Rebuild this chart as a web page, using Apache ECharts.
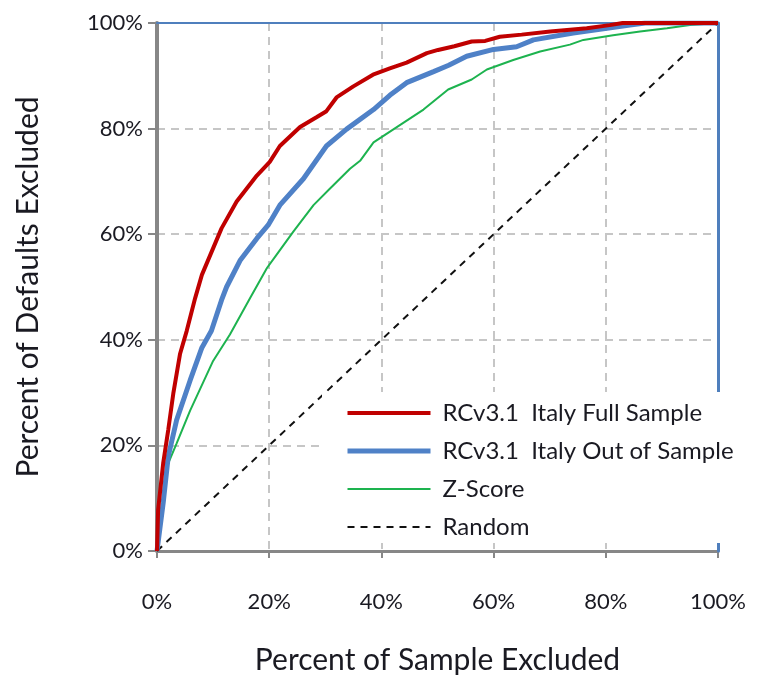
<!DOCTYPE html>
<html>
<head>
<meta charset="utf-8">
<script src="https://cdn.jsdelivr.net/npm/echarts@6/dist/echarts.min.js"></script>
<style>html,body{margin:0;padding:0;background:#fff;}#c{width:771px;height:680px;}</style>
</head>
<body>
<div id="c"></div>
<script>
var seriesNames = ['RCv3.1  Italy Full Sample', 'RCv3.1  Italy Out of Sample', 'Z-Score', 'Random'];
var xTicks = [0, 20, 40, 60, 80, 100];

var fullX = [0, 0.2, 1.1, 2.0, 2.9, 4.1, 5.3, 6.8, 8.0, 11.5, 14.2, 17.8, 20.1, 21.9, 25.5, 28.5, 30.2, 32.0, 35.0, 38.5, 41.5, 44.5, 48.1, 50.1, 53.0, 56.1, 58.5, 61.1, 65.0, 70.1, 76.6, 80.7, 83.0, 100];
var fullY = [0, 7.8, 16.6, 22.9, 29.8, 37.3, 41.7, 47.9, 52.3, 61.1, 66.2, 71.1, 73.7, 76.7, 80.3, 82.2, 83.3, 85.9, 88.0, 90.2, 91.4, 92.5, 94.3, 94.9, 95.6, 96.5, 96.6, 97.4, 97.8, 98.4, 99.0, 99.6, 100, 100];

var outX = [0, 1.1, 2.0, 3.5, 5.9, 8.0, 9.7, 11.5, 12.4, 14.8, 17.8, 19.8, 21.9, 26.1, 30.2, 33.8, 38.6, 41.5, 44.5, 49.3, 52.0, 55.2, 60.0, 64.1, 67.1, 74.2, 80.2, 84.3, 87.0, 100];
var outY = [0, 9.1, 17.9, 24.8, 32.3, 38.5, 41.7, 47.5, 50.0, 55.0, 59.2, 61.7, 65.5, 70.5, 76.7, 79.9, 83.6, 86.3, 88.7, 90.8, 92.0, 93.7, 95.0, 95.5, 96.8, 98.1, 99.0, 99.6, 100, 100];

var zX = [0, 0.8, 2.0, 3.5, 5.9, 10.0, 13.0, 16.6, 19.6, 21.3, 24.3, 27.9, 30.8, 34.4, 36.2, 38.6, 43.9, 47.5, 51.9, 56.1, 58.8, 63.5, 68.3, 73.6, 76.0, 81.3, 86.1, 90.9, 95.0, 100];
var zY = [0, 7.8, 16.6, 20.4, 26.6, 36.0, 41.0, 47.9, 53.6, 56.1, 60.5, 65.5, 68.6, 72.4, 73.9, 77.4, 81.1, 83.6, 87.4, 89.3, 91.2, 93.0, 94.6, 95.9, 96.8, 97.7, 98.4, 99.0, 99.6, 100];

var randomX = [0, 100];
var randomY = [0, 100];

function pairs(xs, ys) { return xs.map(function (x, i) { return [x, ys[i]]; }); }

var FONT = 'Lato';
var TXT = '#1a1a22';
var colors = ['#c00000', '#4f81c7', '#1db34f', '#111'];
var widths = [4, 5, 2, 2];
var dashes = ['solid', 'solid', 'solid', [7, 6]];

var chart = echarts.init(document.getElementById('c'), null, {renderer: 'canvas'});
chart.setOption({
  backgroundColor: '#fff',
  animation: false,
  grid: {left: 157, right: 53, top: 23, bottom: 125, containLabel: false},
  legend: {
    data: seriesNames.map(function (n, i) {
      return {name: n, lineStyle: {color: colors[i], width: widths[i], type: dashes[i]}, itemStyle: {opacity: 0}};
    }),
    orient: 'vertical',
    left: 322, top: 392,
    backgroundColor: '#fff',
    padding: [9, 20, 4, 23],
    itemWidth: 83, itemHeight: 20, itemGap: 14,
    z: 10,
    textStyle: {fontFamily: FONT, fontSize: 24, color: TXT, padding: [0, 0, 0, 7]}
  },
  xAxis: [{
    type: 'value', min: 0, max: 100, interval: 20,
    name: 'Percent of Sample Excluded', nameLocation: 'middle', nameGap: 94,
    nameTextStyle: {fontFamily: FONT, fontSize: 30, color: TXT},
    axisLine: {lineStyle: {color: '#878787', width: 3}},
    axisTick: {show: true, length: 7, lineStyle: {color: '#878787', width: 2}},
    axisLabel: {formatter: '{value}%', margin: 40, fontFamily: FONT, fontSize: 22, color: TXT},
    splitLine: {show: true, lineStyle: {color: '#c6c6c6', width: 2, type: [8, 6]}}
  }, {
    type: 'value', min: 0, max: 100, position: 'top', z: 3,
    axisLine: {show: true, onZero: false, lineStyle: {color: '#4f7fbd', width: 2}},
    axisTick: {show: false}, axisLabel: {show: false}, splitLine: {show: false}
  }],
  yAxis: [{
    type: 'value', min: 0, max: 100, interval: 20,
    name: 'Percent of Defaults Excluded', nameLocation: 'middle', nameGap: 114,
    nameTextStyle: {fontFamily: FONT, fontSize: 30, color: TXT},
    axisLine: {show: true, lineStyle: {color: '#878787', width: 4}},
    axisTick: {show: true, length: 9, lineStyle: {color: '#878787', width: 2}},
    axisLabel: {formatter: '{value}%', margin: 14, fontFamily: FONT, fontSize: 22, color: TXT},
    splitLine: {show: true, lineStyle: {color: '#c6c6c6', width: 2, type: [8, 6]}}
  }, {
    type: 'value', min: 0, max: 100, position: 'right', z: 3,
    axisLine: {show: true, onZero: false, lineStyle: {color: '#4f7fbd', width: 3}},
    axisTick: {show: false}, axisLabel: {show: false}, splitLine: {show: false}
  }],
  series: [
    {name: seriesNames[3], type: 'line', data: pairs(randomX, randomY), symbol: 'none', z: 2,
     lineStyle: {color: colors[3], width: widths[3], type: dashes[3]}, itemStyle: {color: colors[3]}},
    {name: seriesNames[2], type: 'line', data: pairs(zX, zY), symbol: 'none', z: 3,
     lineStyle: {color: colors[2], width: widths[2]}, itemStyle: {color: colors[2]}},
    {name: seriesNames[1], type: 'line', data: pairs(outX, outY), symbol: 'none', z: 4,
     lineStyle: {color: colors[1], width: widths[1]}, itemStyle: {color: colors[1]}},
    {name: seriesNames[0], type: 'line', data: pairs(fullX, fullY), symbol: 'none', z: 5,
     lineStyle: {color: colors[0], width: widths[0]}, itemStyle: {color: colors[0]}}
  ]
});
</script>
</body>
</html>
